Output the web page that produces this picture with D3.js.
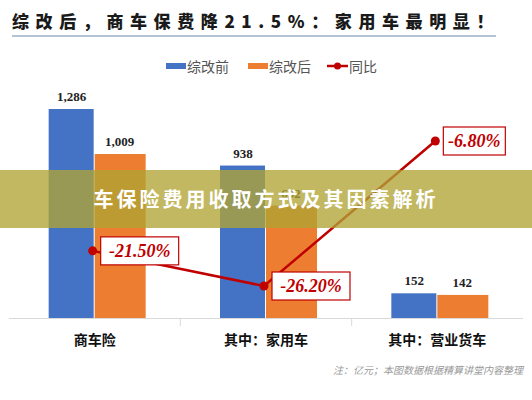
<!DOCTYPE html><html><head><meta charset="utf-8"><script src="https://cdn.jsdelivr.net/npm/d3@7"></script>
<style>body{margin:0;background:#fff}svg{display:block}</style></head><body><script>
const categories=["商车险","其中：家用车","其中：营业货车"];
const before=[1286,938,152];
const after=[1009,692,142];
const yoy=[-21.5,-26.2,-6.8];
const yoyLabels=["-21.50%","-26.20%","-6.80%"];
const W=532,H=400;
const svg=d3.select("body").append("svg").attr("width",W).attr("height",H);
svg.append("text").attr("x",12).attr("y",28).text("综改后，商车保费降21.5%：家用车最明显！")
 .attr("font-family","Noto Sans CJK SC").attr("font-weight",900).attr("font-size",17).attr("letter-spacing",6.6).attr("fill","#1a1a1a");
svg.append("line").attr("x1",12).attr("x2",496).attr("y1",36).attr("y2",36).attr("stroke","#6a88a8").attr("stroke-width",1);
const lg=svg.append("g").attr("font-family","Noto Sans CJK SC").attr("font-size",14).attr("fill","#555");
lg.append("rect").attr("x",166).attr("y",63).attr("width",20).attr("height",6).attr("fill","#4472c4");
lg.append("text").attr("x",187).attr("y",72).text("综改前");
lg.append("rect").attr("x",248).attr("y",63).attr("width",20).attr("height",6).attr("fill","#ed7d31");
lg.append("text").attr("x",269).attr("y",72).text("综改后");
lg.append("line").attr("x1",327).attr("x2",348).attr("y1",66).attr("y2",66).attr("stroke","#c00000").attr("stroke-width",2.5);
lg.append("circle").attr("cx",337.5).attr("cy",66).attr("r",3.5).attr("fill","#c00000");
lg.append("text").attr("x",349).attr("y",72).text("同比");
const x=d3.scaleBand().domain(categories).range([9,523]).paddingInner(0).paddingOuter(0);
const y=d3.scaleLinear().domain([0,1286]).range([318,109]);
const y2=d3.scaleLinear().domain([-26.2,-6.8]).range([286,141]);
const bw=46;
const cx=c=>x(c)+x.bandwidth()/2;
svg.append("line").attr("x1",9).attr("x2",523).attr("y1",318.5).attr("y2",318.5).attr("stroke","#d9d9d9");
[1,2].forEach(i=>svg.append("line").attr("x1",9+i*x.bandwidth()).attr("x2",9+i*x.bandwidth()).attr("y1",318).attr("y2",326).attr("stroke","#d9d9d9"));
svg.selectAll(".b").data(before).join("rect").attr("x",(d,i)=>cx(categories[i])-bw).attr("width",bw-1)
 .attr("y",d=>y(d)).attr("height",d=>318-y(d)).attr("fill","#4472c4");
svg.selectAll(".a").data(after).join("rect").attr("x",(d,i)=>cx(categories[i])).attr("width",bw+5)
 .attr("y",d=>y(d)).attr("height",d=>318-y(d)).attr("fill","#ed7d31");
const vf=d3.format(",");
svg.selectAll(".bl").data(before).join("text").attr("x",(d,i)=>cx(categories[i])-bw/2).attr("y",d=>y(d)-8)
 .attr("text-anchor","middle").text(d=>vf(d)).attr("font-family","Liberation Serif").attr("font-weight",700).attr("font-size",13).attr("fill","#222");
svg.selectAll(".al").data(after).join("text").attr("x",(d,i)=>cx(categories[i])+bw/2+2).attr("y",d=>y(d)-8)
 .attr("text-anchor","middle").text(d=>vf(d)).attr("font-family","Liberation Serif").attr("font-weight",700).attr("font-size",13).attr("fill","#222");
const line=d3.line().x((d,i)=>cx(categories[i])-2).y(d=>y2(d));
svg.append("path").attr("d",line(yoy)).attr("fill","none").attr("stroke","#c00000").attr("stroke-width",2.5);
svg.selectAll(".p").data(yoy).join("circle").attr("cx",(d,i)=>cx(categories[i])-2).attr("cy",d=>y2(d)).attr("r",4.5).attr("fill","#c00000");
const bwid=[78,78,62];
yoy.forEach((d,i)=>{
 const bx=cx(categories[i])+6, by=y2(d)-14;
 svg.append("rect").attr("x",bx).attr("y",by).attr("width",bwid[i]).attr("height",28).attr("fill","#fff").attr("stroke","#c00000").attr("stroke-width",1.2);
 svg.append("text").attr("x",bx+bwid[i]/2).attr("y",by+20).attr("text-anchor","middle").text(yoyLabels[i])
  .attr("font-family","Liberation Serif").attr("font-style","italic").attr("font-weight",700).attr("font-size",18).attr("fill","#c00000");
});
svg.selectAll(".cl").data(categories).join("text").attr("x",d=>cx(d)).attr("y",345).attr("text-anchor","middle").text(d=>d)
 .attr("font-family","Noto Sans CJK SC").attr("font-weight",700).attr("font-size",14).attr("fill","#111");
svg.append("text").attr("x",523).attr("y",374).attr("text-anchor","end").text("注：亿元；本图数据根据精算讲堂内容整理")
 .attr("font-family","Noto Sans CJK SC").attr("font-style","italic").attr("font-size",10).attr("fill","#999");
svg.append("rect").attr("x",0).attr("y",170).attr("width",W).attr("height",58).attr("fill","rgb(176,164,52)").attr("opacity",0.78);
svg.append("text").attr("x",W/2).attr("y",207).attr("text-anchor","middle").text("车保险费用收取方式及其因素解析")
 .attr("font-family","Noto Sans CJK SC").attr("font-weight",700).attr("font-size",20).attr("letter-spacing",3).attr("fill","#fff");
</script></body></html>
